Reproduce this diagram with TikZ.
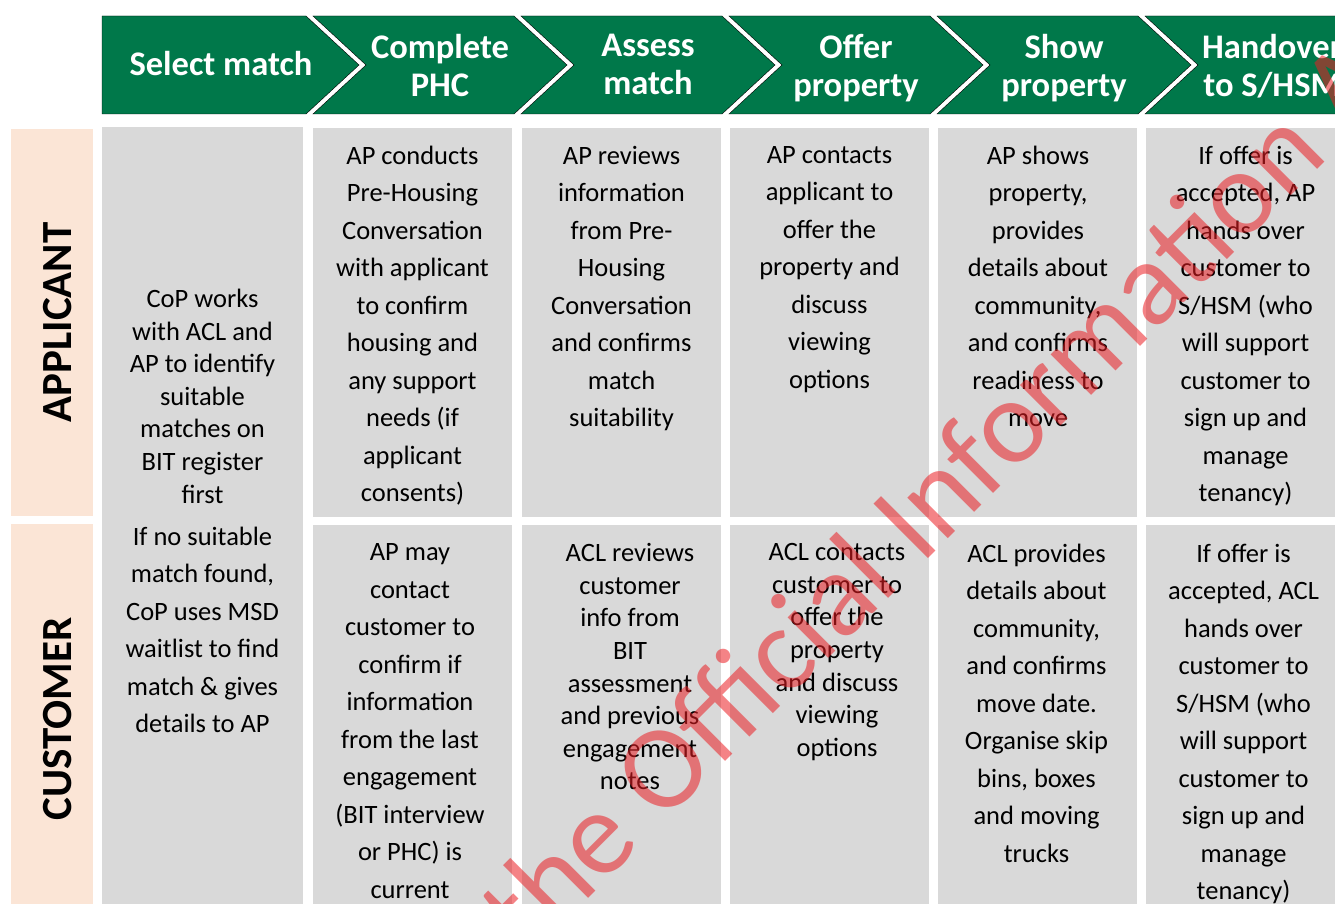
\documentclass[tikz,border=0pt]{standalone}
\usepackage{fontspec}
\setmainfont{Carlito}
\usepackage{tikz}
\definecolor{hdrgreen}{RGB}{0,120,74}
\definecolor{cellgray}{RGB}{217,217,217}
\definecolor{lanepeach}{RGB}{251,229,214}
\definecolor{wmred}{RGB}{235,30,35}
\newcommand{\hdfont}{\bfseries\fontsize{34.5}{38}\selectfont}
\newcommand{\txfont}{\fontsize{26.5}{37.5}\selectfont}
\newcommand{\txtight}{\fontsize{26.5}{32.6}\selectfont}
\newcommand{\lanefont}{\bfseries\fontsize{43}{48}\selectfont}

\begin{document}
\begin{tikzpicture}[x=1pt,y=-1pt,
    stage/.style={fill=hdrgreen},
    stagetxt/.style={anchor=north,align=center,text=white,font=\hdfont,inner sep=0pt,execute at begin node=\strut},
    cell/.style={fill=cellgray,anchor=north west,inner sep=0pt,minimum width=199pt},
    celltxt/.style={anchor=north,align=center,font=\txfont,inner sep=0pt,execute at begin node=\strut},
    tight/.style={font=\txtight},
    lane/.style={fill=lanepeach,anchor=north west,inner sep=0pt,minimum width=82pt},
    lanetxt/.style={rotate=90,font=\lanefont,inner sep=0pt}]
			\useasboundingbox (0,0) rectangle (1335,904);
			\clip (0,0) rectangle (1335,904);
			% process stages
			\draw[stage] (102,16) -- (306,16) -- (359,65) -- (306,114) -- (102,114) -- cycle;
			\draw[stage] (313,16) -- (514,16) -- (567,65) -- (514,114) -- (313,114) -- (366,65) -- cycle;
			\draw[stage] (521,16) -- (722,16) -- (775,65) -- (722,114) -- (521,114) -- (574,65) -- cycle;
			\draw[stage] (729,16) -- (930,16) -- (983,65) -- (930,114) -- (729,114) -- (782,65) -- cycle;
			\draw[stage] (937,16) -- (1138,16) -- (1191,65) -- (1138,114) -- (937,114) -- (990,65) -- cycle;
			\draw[stage] (1145,16) -- (1346,16) -- (1399,65) -- (1346,114) -- (1145,114) -- (1198,65) -- cycle;
			\node[stagetxt] (st-select) at (221,48.4) {Select match};
			\node[stagetxt] (st-phc) at (440,33.9) {Complete\\PHC};
			\node[stagetxt] (st-assess) at (648,33.9) {Assess\\match};
			\node[stagetxt] (st-offer) at (856,33.9) {Offer\\property};
			\node[stagetxt] (st-show) at (1064,33.9) {Show\\property};
			\node[stagetxt] (st-hand) at (1272,33.9) {Handover\\to S/HSM};
			% swim lanes
			\node[lane,minimum height=387pt] (lane-app) at (11,129) {};
			\node[lane,minimum height=390pt] (lane-cus) at (11,524) {};
			\node[lanetxt] (lbl-app) at (58,322.5) {APPLICANT};
			\node[lanetxt] (lbl-cus) at (58,719) {CUSTOMER};
			% cells
			\node[cell,minimum width=201pt,minimum height=790pt] (c-select) at (102,127) {};
			\node[cell,minimum height=389pt] (a-phc) at (313,128) {};
			\node[cell,minimum height=389pt] (a-assess) at (522,128) {};
			\node[cell,minimum height=389pt] (a-offer) at (730,128) {};
			\node[cell,minimum height=389pt] (a-show) at (938,128) {};
			\node[cell,minimum height=389pt] (a-hand) at (1146,128) {};
			\node[cell,minimum height=390pt] (u-phc) at (313,525) {};
			\node[cell,minimum height=390pt] (u-assess) at (522,525) {};
			\node[cell,minimum height=390pt] (u-offer) at (730,525) {};
			\node[cell,minimum height=390pt] (u-show) at (938,525) {};
			\node[cell,minimum height=390pt] (u-hand) at (1146,525) {};
			% cell texts
			\node[celltxt,tight] (t-select1) at (202.5,288.9) {CoP works\\with ACL and\\AP to identify\\suitable\\matches on\\BIT register\\first};
			\node[celltxt] (t-select2) at (202.5,526.8) {If no suitable\\match found,\\CoP uses MSD\\waitlist to find\\match \& gives\\details to AP};
			\node[celltxt] (ta-phc) at (412.5,145.8) {AP conducts\\Pre-Housing\\Conversation\\with applicant\\to confirm\\housing and\\any support\\needs (if\\applicant\\consents)};
			\node[celltxt] (ta-assess) at (621.5,145.8) {AP reviews\\information\\from Pre-\\Housing\\Conversation\\and confirms\\match\\suitability};
			\node[celltxt] (ta-offer) at (829.5,145.8) {AP contacts\\applicant to\\offer the\\property and\\discuss\\viewing\\options};
			\node[celltxt] (ta-show) at (1038,145.8) {AP shows\\property,\\provides\\details about\\community,\\and confirms\\readiness to\\move};
			\node[celltxt] (ta-hand) at (1245.5,145.8) {If offer is\\accepted, AP\\hands over\\customer to\\S/HSM (who\\will support\\customer to\\sign up and\\manage\\tenancy)};
			\node[celltxt] (tu-phc) at (410,543.5) {AP may\\contact\\customer to\\confirm if\\information\\from the last\\engagement\\(BIT interview\\or PHC) is\\current};
			\node[celltxt,tight] (tu-assess) at (630,543.2) {ACL reviews\\customer\\info from\\BIT\\assessment\\and previous\\engagement\\notes};
			\node[celltxt,tight] (tu-offer) at (837,543.2) {ACL contacts\\customer to\\offer the\\property\\and discuss\\viewing\\options};
			\node[celltxt] (tu-show) at (1036.5,543.5) {ACL provides\\details about\\community,\\and confirms\\move date.\\Organise skip\\bins, boxes\\and moving\\trucks};
			\node[celltxt] (tu-hand) at (1243.5,543.5) {If offer is\\accepted, ACL\\hands over\\customer to\\S/HSM (who\\will support\\customer to\\sign up and\\manage\\tenancy)};
			% watermark
			\node[rotate=45,anchor=base,text=wmred,text opacity=0.55,font=\fontsize{120}{120}\selectfont,inner sep=0pt] (wmark) at (995,492) {the Official Information Act};
		\end{tikzpicture}
\end{document}
